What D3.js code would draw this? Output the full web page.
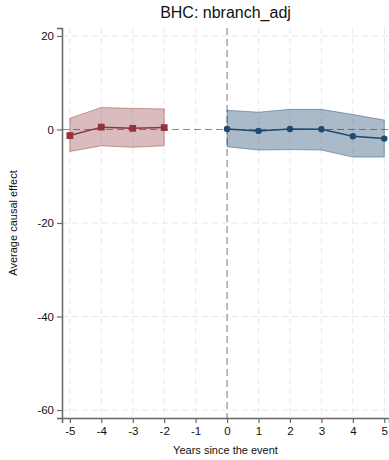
<!DOCTYPE html>
<html>
<head>
<meta charset="utf-8">
<script src="https://cdn.jsdelivr.net/npm/d3@7"></script>
<style>
  body { margin: 0; background: #fff; }
  svg { display: block; font-family: "Liberation Sans", Arial, sans-serif; }
</style>
</head>
<body>
<div id="chart"></div>
<script>
const title = 'BHC: nbranch_adj';
const xTicks = [-5, -4, -3, -2, -1, 0, 1, 2, 3, 4, 5];
const yTicks = [20, 0, -20, -40, -60];

const preYears = [-5, -4, -3, -2];
const preEst = [-1.3, 0.5, 0.25, 0.4];
const preHi = [2.4, 4.7, 4.5, 4.4];
const preLo = [-4.7, -3.5, -3.8, -3.5];

const postYears = [0, 1, 2, 3, 4, 5];
const postEst = [0.1, -0.3, 0.1, 0.05, -1.45, -1.95];
const postHi = [4.1, 3.7, 4.3, 4.3, 3.2, 2.0];
const postLo = [-3.7, -4.4, -4.3, -4.4, -5.9, -5.9];

const W = 389, H = 460;
const m = { top: 28, right: 0, bottom: 42, left: 62 };

const svg = d3.select('#chart').append('svg')
    .attr('width', W)
    .attr('height', H);

const x = d3.scaleLinear().domain([-5.25, 5.15]).range([m.left, W - m.right]);
const y = d3.scaleLinear().domain([-61.7, 21.7]).range([H - m.bottom, m.top]);

// plain hyphen minus, like the original
const fmt = d => String(d);

// grid
svg.append('g').selectAll('line')
    .data(xTicks.filter(d => d !== 0))
    .join('line')
    .attr('x1', d => x(d)).attr('x2', d => x(d))
    .attr('y1', y.range()[1]).attr('y2', y.range()[0])
    .attr('stroke', '#e8e8e8').attr('stroke-dasharray', '6,4');

svg.append('g').selectAll('line')
    .data(yTicks.filter(d => d !== 0))
    .join('line')
    .attr('x1', m.left).attr('x2', W)
    .attr('y1', d => y(d)).attr('y2', d => y(d))
    .attr('stroke', '#e8e8e8').attr('stroke-dasharray', '6,4');

// reference lines
svg.append('line')
    .attr('x1', m.left).attr('x2', W)
    .attr('y1', y(0)).attr('y2', y(0))
    .attr('stroke', '#888').attr('stroke-dasharray', '7,4');

svg.append('line')
    .attr('x1', x(0)).attr('x2', x(0))
    .attr('y1', y.range()[1]).attr('y2', y.range()[0])
    .attr('stroke', '#777').attr('stroke-dasharray', '7,4');

const series = [
    { years: preYears, est: preEst, hi: preHi, lo: preLo, color: '#90353b', fill: 'rgba(144,53,59,0.33)', shape: 'square' },
    { years: postYears, est: postEst, hi: postHi, lo: postLo, color: '#1f4a70', fill: 'rgba(31,74,112,0.38)', shape: 'circle' }
];

series.forEach(s => {
    const rows = s.years.map((yr, i) => ({ yr, est: s.est[i], hi: s.hi[i], lo: s.lo[i] }));
    const area = d3.area().x(d => x(d.yr)).y0(d => y(d.lo)).y1(d => y(d.hi));
    svg.append('path')
        .datum(rows)
        .attr('d', area)
        .attr('fill', s.fill)
        .attr('stroke', s.color)
        .attr('stroke-opacity', 0.45)
        .attr('stroke-width', 1);

    svg.append('path')
        .datum(rows)
        .attr('d', d3.line().x(d => x(d.yr)).y(d => y(d.est)))
        .attr('fill', 'none')
        .attr('stroke', s.color)
        .attr('stroke-width', 1.5);

    const sym = d3.symbol().type(s.shape === 'square' ? d3.symbolSquare : d3.symbolCircle)
        .size(s.shape === 'square' ? 46 : 32);
    svg.append('g').selectAll('path')
        .data(rows)
        .join('path')
        .attr('transform', d => `translate(${x(d.yr)},${y(d.est)})`)
        .attr('d', sym)
        .attr('fill', s.color);
});

// axes
const yAxis = svg.append('g')
    .attr('transform', `translate(${m.left},0)`)
    .call(d3.axisLeft(y).tickValues(yTicks).tickFormat(fmt).tickSize(5).tickPadding(3));
yAxis.select('.domain').attr('stroke', '#666').attr('stroke-width', 1.5);
yAxis.selectAll('.tick line').attr('stroke', '#666').attr('stroke-width', 1.2);
yAxis.selectAll('text').attr('font-size', 11.5).attr('fill', '#111');

const xAxis = svg.append('g')
    .attr('transform', `translate(0,${H - m.bottom})`)
    .call(d3.axisBottom(x).tickValues(xTicks).tickFormat(fmt).tickSize(5).tickPadding(4));
xAxis.select('.domain').attr('stroke', '#666').attr('stroke-width', 1.5);
xAxis.selectAll('.tick line').attr('stroke', '#666').attr('stroke-width', 1.2);
xAxis.selectAll('text').attr('font-size', 11.5).attr('fill', '#111');

// titles
svg.append('text')
    .attr('x', (m.left + W) / 2).attr('y', 18)
    .attr('text-anchor', 'middle')
    .attr('font-size', 16)
    .attr('fill', '#111')
    .text(title);

svg.append('text')
    .attr('x', (m.left + W) / 2).attr('y', 454)
    .attr('text-anchor', 'middle')
    .attr('font-size', 11)
    .attr('fill', '#111')
    .text('Years since the event');

svg.append('text')
    .attr('transform', `translate(17,${(y.range()[0] + y.range()[1]) / 2}) rotate(-90)`)
    .attr('text-anchor', 'middle')
    .attr('font-size', 11)
    .attr('fill', '#111')
    .text('Average causal effect');
</script>
</body>
</html>
